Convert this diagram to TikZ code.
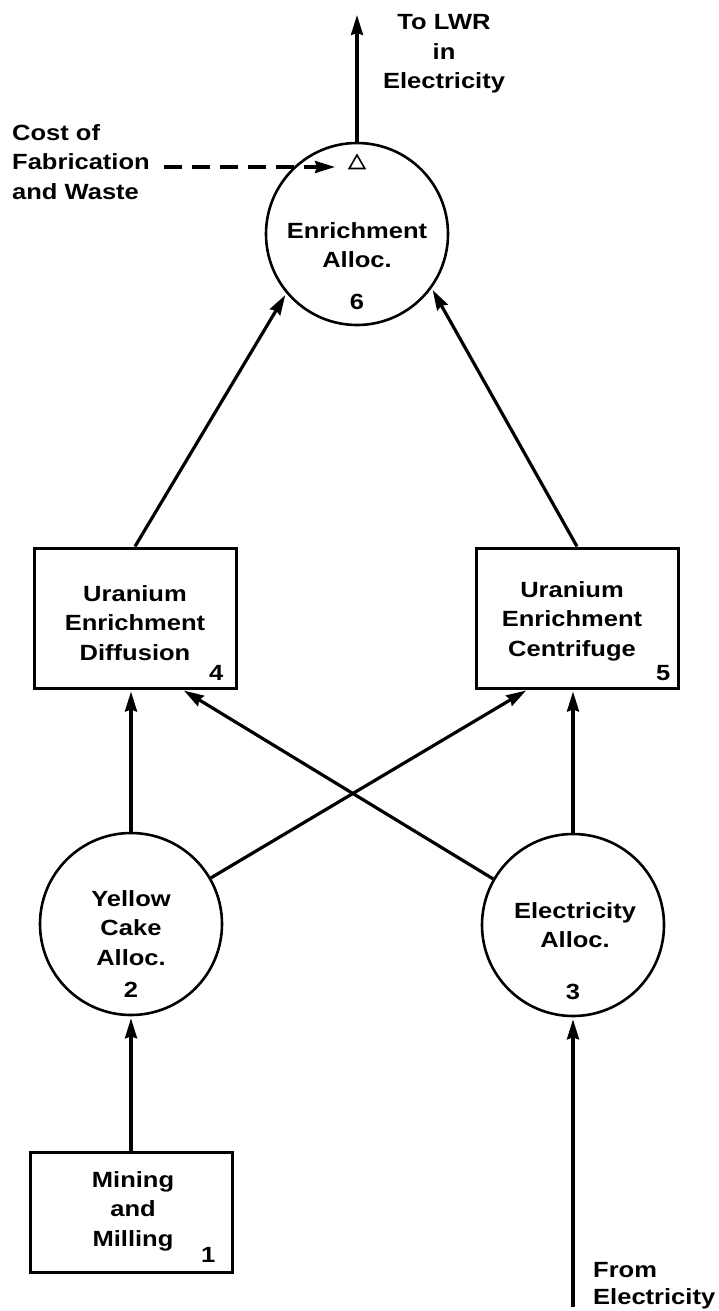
\documentclass[tikz,border=0pt]{standalone}
\usepackage{fontspec}
\setmainfont{Liberation Sans}[FakeStretch=1.16]
\usetikzlibrary{arrows.meta, calc, positioning, shapes.geometric}

\begin{document}
\begin{tikzpicture}[x=1pt, y=-1pt, >={Stealth[length=20pt, width=12pt, inset=2pt]},
    font=\bfseries\fontsize{22}{29.5}\selectfont,
    alloc/.style={draw, circle, line width=2.6pt, minimum size=182pt, inner sep=0pt},
    unit/.style={draw, rectangle, line width=3pt, minimum width=202pt, minimum height=140pt, inner sep=0pt},
    txt/.style={align=center, inner sep=0pt},
    num/.style={inner sep=0pt, anchor=base},
    flow/.style={->, line width=3.2pt, shorten >=2pt}]
    \useasboundingbox (0,0) rectangle (719,1311);

    % allocation circles
    \node[alloc] (alloc6) at (357,234) {};
    \node[txt] (alloc6txt) at ([yshift=-11pt]alloc6.center) {Enrichment\\Alloc.};
    \node[num] (n6) at ([yshift=17pt]alloc6.south) {6};
    \node[alloc] (alloc2) at (131,924) {};
    \node[txt] (alloc2txt) at ([yshift=-4pt]alloc2.center) {Yellow\\Cake\\Alloc.};
    \node[num] (n2) at ([yshift=19pt]alloc2.south) {2};
    \node[alloc] (alloc3) at (573,925) {};
    \node[txt] (alloc3txt) at ([xshift=2pt]alloc3.center) {Electricity\\Alloc.};
    \node[num] (n3) at ([yshift=18pt]alloc3.south) {3};

    % process boxes
    \node[unit] (diff4) at (135,618) {};
    \node[txt] (diff4txt) at ([yshift=-5pt]diff4.center) {Uranium\\Enrichment\\Diffusion};
    \node[num, anchor=base east] (n4) at ([xshift=-14pt, yshift=9pt]diff4.south east) {4};
    \node[unit] (cent5) at (577,618) {};
    \node[txt] (cent5txt) at ([xshift=-5pt, yshift=-3pt]cent5.center) {Uranium\\Enrichment\\Centrifuge};
    \node[num, anchor=base east] (n5) at ([xshift=-9pt, yshift=9pt]cent5.south east) {5};
    \node[unit, minimum height=120pt] (mine1) at (131,1212) {};
    \node[txt] (mine1txt) at ([xshift=2pt, yshift=1pt]mine1.center) {Mining\\and\\Milling};
    \node[num, anchor=base east] (n1) at ([xshift=-18pt, yshift=11pt]mine1.south east) {1};

    % outside inputs and outputs
    \node[draw, regular polygon, regular polygon sides=3, minimum size=18pt, inner sep=0pt, line width=1.6pt] (tri) at (357,164) {};
    \node[txt] (lwr) at (444,54) {To LWR\\in\\Electricity};
    \node[txt, align=left, anchor=west] (cost) at (12,162) {Cost of\\Fabrication\\and Waste};
    \node[txt, align=left, anchor=west, font=\bfseries\fontsize{22}{27}\selectfont] (fromel) at (593,1286) {From\\Electricity};
    \coordinate (lwrout) at (357,13);
    \coordinate (fabin) at (164,167);
    \coordinate (elecin) at (573,1307);

    \draw[flow] (alloc6.north) -- (lwrout);
    \draw[flow, dash pattern=on 18pt off 10pt] (fabin) -- ([xshift=-20pt, yshift=-3pt]tri.center);
    \draw[flow] (elecin) -- (alloc3.south);
    \draw[flow] (mine1.north) -- (alloc2.south);
    \draw[flow] (alloc2.north) -- (alloc2.north |- diff4.south);
    \draw[flow] (alloc3.north) -- (alloc3.north |- cent5.south);
    \draw[flow] (alloc2.30) -- ($(cent5.south west)!0.26!(cent5.south east)$);
    \draw[flow] (alloc3.150) -- ($(diff4.south west)!0.73!(diff4.south east)$);
    \draw[flow] (diff4.north) -- (alloc6.220);
    \draw[flow] (cent5.north) -- (alloc6.-36);
\end{tikzpicture}
\end{document}
